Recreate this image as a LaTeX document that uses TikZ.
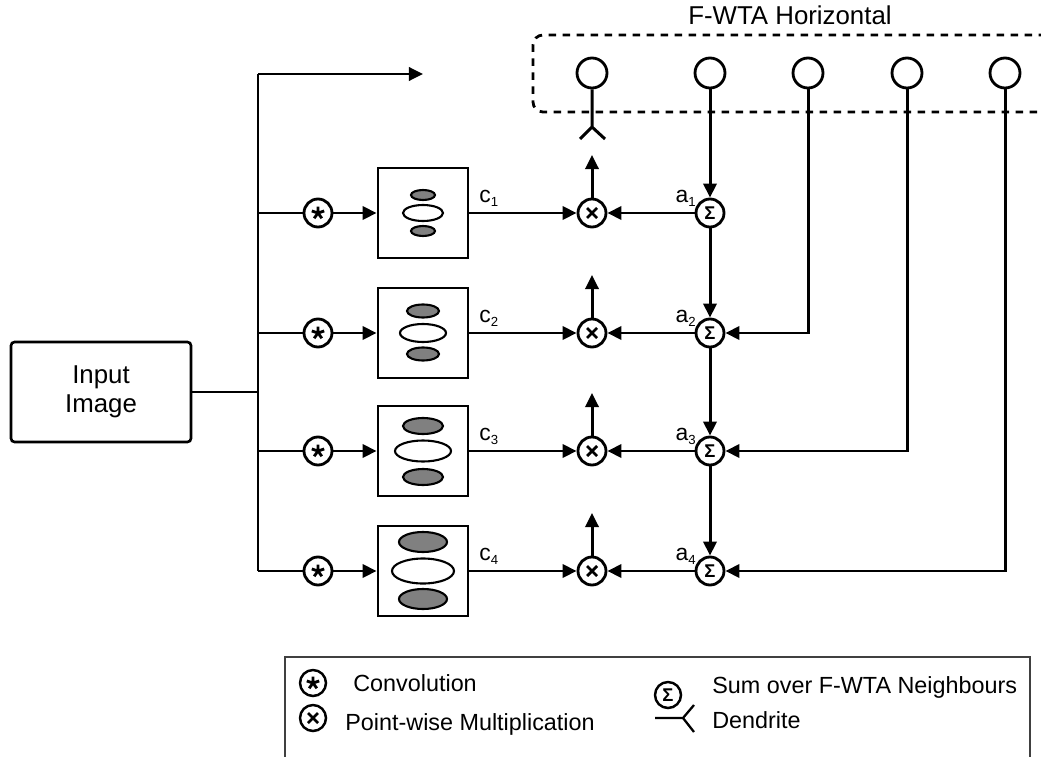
\documentclass[tikz,border=0pt]{standalone}
\usepackage{fontspec}
\setmainfont{Liberation Sans}
\usetikzlibrary{arrows.meta}

\newcommand{\lowidx}[1]{\raisebox{-0.35ex}{\fontsize{7.5}{8}\selectfont #1}}

\tikzset{
  fleche/.style={-{Triangle[length=8pt,width=7.5pt]}},
  trait/.style={line width=1.7pt},
  rond/.style={circle, draw, line width=1.6pt, minimum size=0.56cm, inner sep=0pt},
  conv/.style={rond, path picture={\draw[line width=1.6pt, shift={(path picture bounding box.center)}]
      (0,0)--(90:0.13cm) (0,0)--(18:0.13cm) (0,0)--(162:0.13cm) (0,0)--(234:0.13cm) (0,0)--(306:0.13cm);}},
  mult/.style={rond, path picture={\draw[line width=1.6pt, shift={(path picture bounding box.center)}]
      (-0.1cm,-0.1cm)--(0.1cm,0.1cm) (-0.1cm,0.1cm)--(0.1cm,-0.1cm);}},
  somme/.style={rond, font=\fontsize{10.5}{10.5}\selectfont\bfseries},
  neurone/.style={circle, draw, line width=1.6pt, minimum size=0.6cm, inner sep=0pt},
  filtre/.style={draw, line width=1.6pt, minimum size=1.8cm, inner sep=0pt},
  etiq/.style={inner sep=0pt, font=\fontsize{13}{14}\selectfont},
  legende/.style={inner sep=0pt, font=\fontsize{13.3}{15}\selectfont},
}

\begin{document}
\begin{tikzpicture}[x=0.02cm, y=-0.02cm]
\useasboundingbox (0,0) rectangle (1041,757);

% Image d'entree et bus vertical
\node[draw, line width=1.5pt, rounded corners=2pt, minimum width=3.6cm, minimum height=2cm,
  align=center, font=\fontsize{14.7}{16.5}\selectfont] (in) at (101,392) {Input\\Image};
\coordinate (bushaut) at (258,74);
\coordinate (busbas) at (258,571);
\coordinate (bussortie) at (423,74);
\draw[trait] (in.east) -- (in.east -| bushaut);
\draw[trait] (busbas) -- (bushaut);
\draw[trait, fleche] (bushaut) -- (bussortie);

% Couche F-WTA horizontale
\draw[line width=1.6pt, dash pattern=on 0.15cm off 0.13cm, rounded corners=0.2cm]
  (1060,35) -- (533,35) -- (533,112) -- (1060,112);
\node[anchor=base, inner sep=0pt, font=\fontsize{14.7}{16}\selectfont] (titre) at (790,25) {F-WTA Horizontal};
\node[neurone] (n1) at (592,73) {};
\node[neurone] (n2) at (710,73) {};
\node[neurone] (n3) at (808,73) {};
\node[neurone] (n4) at (907,73) {};
\node[neurone] (n5) at (1005,73) {};
\coordinate (d1) at (592,127);
\coordinate (d1g) at (580,139);
\coordinate (d1d) at (605,139);
\draw[trait] (n1) -- (d1) -- (d1g) (d1) -- (d1d);

% Ligne 1
\node[conv] (v1) at (318,213) {};
\node[filtre] (f1) at (423,213) {};
\filldraw[fill=gray, line width=1.2pt] (423,195) ellipse [x radius=12, y radius=5];
\filldraw[fill=white, line width=1.2pt] (423,213) ellipse [x radius=20, y radius=8];
\filldraw[fill=gray, line width=1.2pt] (423,231) ellipse [x radius=12, y radius=5];
\node[mult] (m1) at (592,213) {};
\node[somme] (s1) at (710,213) {Σ};
\coordinate (h1) at (592,155);
\draw[trait] (v1 -| busbas) -- (v1);
\draw[trait, fleche] (v1) -- (f1);
\draw[trait, fleche] (f1) -- (m1);
\draw[trait, fleche] (s1) -- (m1);
\draw[trait, fleche] (m1) -- (h1);
\node[etiq, anchor=base west] (c1) at (479,202) {c\lowidx{1}};
\node[etiq, anchor=base east] (a1) at (696,202) {a\lowidx{1}};

% Ligne 2
\node[conv] (v2) at (318,333) {};
\node[filtre] (f2) at (423,333) {};
\filldraw[fill=gray, line width=1.2pt] (423,311) ellipse [x radius=16, y radius=6.5];
\filldraw[fill=white, line width=1.2pt] (423,333) ellipse [x radius=23, y radius=9];
\filldraw[fill=gray, line width=1.2pt] (423,354) ellipse [x radius=16, y radius=6.5];
\node[mult] (m2) at (592,333) {};
\node[somme] (s2) at (710,333) {Σ};
\coordinate (h2) at (592,275);
\draw[trait] (v2 -| busbas) -- (v2);
\draw[trait, fleche] (v2) -- (f2);
\draw[trait, fleche] (f2) -- (m2);
\draw[trait, fleche] (s2) -- (m2);
\draw[trait, fleche] (m2) -- (h2);
\node[etiq, anchor=base west] (c2) at (479,322) {c\lowidx{2}};
\node[etiq, anchor=base east] (a2) at (696,322) {a\lowidx{2}};

% Ligne 3
\node[conv] (v3) at (318,451) {};
\node[filtre] (f3) at (423,451) {};
\filldraw[fill=gray, line width=1.2pt] (423,426) ellipse [x radius=20, y radius=8];
\filldraw[fill=white, line width=1.2pt] (423,451) ellipse [x radius=28, y radius=10.5];
\filldraw[fill=gray, line width=1.2pt] (423,477) ellipse [x radius=20, y radius=8];
\node[mult] (m3) at (592,451) {};
\node[somme] (s3) at (710,451) {Σ};
\coordinate (h3) at (592,393);
\draw[trait] (v3 -| busbas) -- (v3);
\draw[trait, fleche] (v3) -- (f3);
\draw[trait, fleche] (f3) -- (m3);
\draw[trait, fleche] (s3) -- (m3);
\draw[trait, fleche] (m3) -- (h3);
\node[etiq, anchor=base west] (c3) at (479,440) {c\lowidx{3}};
\node[etiq, anchor=base east] (a3) at (696,440) {a\lowidx{3}};

% Ligne 4
\node[conv] (v4) at (318,571) {};
\node[filtre] (f4) at (423,571) {};
\filldraw[fill=gray, line width=1.2pt] (423,542) ellipse [x radius=24, y radius=10];
\filldraw[fill=white, line width=1.2pt] (423,571) ellipse [x radius=31, y radius=12.5];
\filldraw[fill=gray, line width=1.2pt] (423,599) ellipse [x radius=24, y radius=10];
\node[mult] (m4) at (592,571) {};
\node[somme] (s4) at (710,571) {Σ};
\coordinate (h4) at (592,513);
\draw[trait] (v4 -| busbas) -- (v4);
\draw[trait, fleche] (v4) -- (f4);
\draw[trait, fleche] (f4) -- (m4);
\draw[trait, fleche] (s4) -- (m4);
\draw[trait, fleche] (m4) -- (h4);
\node[etiq, anchor=base west] (c4) at (479,560) {c\lowidx{4}};
\node[etiq, anchor=base east] (a4) at (696,560) {a\lowidx{4}};

% Sommes sur les voisins
\draw[trait, fleche] (n2) -- (s1);
\draw[trait, fleche] (s1) -- (s2);
\draw[trait, fleche] (s2) -- (s3);
\draw[trait, fleche] (s3) -- (s4);
\draw[trait, fleche] (n3) |- (s2);
\draw[trait, fleche] (n4) |- (s3);
\draw[trait, fleche] (n5) |- (s4);

% Legende
\draw[line width=0.7pt, black!75] (285,760) -- (285,657) -- (1030,657) -- (1030,760);
\node[conv, minimum size=0.52cm, line width=1.4pt] (lv) at (313,683) {};
\node[legende, anchor=base west] (lvt) at (353,691) {Convolution};
\node[mult, minimum size=0.52cm, line width=1.4pt] (lm) at (313,718) {};
\node[legende, anchor=base west] (lmt) at (345,730) {Point-wise Multiplication};
\node[somme, minimum size=0.52cm, line width=1.4pt] (ls) at (668,695) {Σ};
\node[legende, anchor=base west] (lst) at (712,693) {Sum over F-WTA Neighbours};
\coordinate (ld0) at (655,718);
\coordinate (ld) at (683,718);
\coordinate (ldh) at (694,705);
\coordinate (ldb) at (694,732);
\draw[line width=1.3pt] (ld0) -- (ld) -- (ldh) (ld) -- (ldb);
\node[legende, anchor=base west] (ldt) at (712,728) {Dendrite};

\end{tikzpicture}
\end{document}
